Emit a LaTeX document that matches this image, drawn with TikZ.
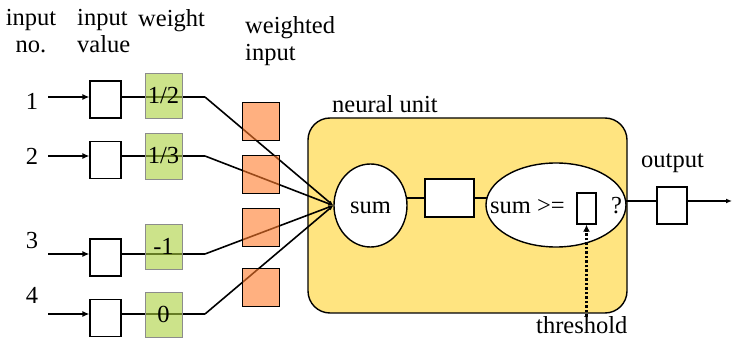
\documentclass[tikz,border=0pt]{standalone}
\usepackage{fontspec}
\setmainfont{Liberation Serif}
\usetikzlibrary{arrows.meta,shapes.geometric}
\definecolor{wgreen}{RGB}{170,208,60}
\definecolor{worange}{RGB}{255,123,43}
\definecolor{nyellow}{RGB}{255,228,128}
\pgfdeclarelayer{bg}
\pgfdeclarelayer{lines}
\pgfsetlayers{bg,lines,main}
\begin{document}
\begin{tikzpicture}[x=1pt,y=-1pt,font=\fontsize{24.5}{27}\selectfont,
  valbox/.style={draw,line width=1.2pt,fill=white,minimum width=31pt,minimum height=37pt,inner sep=0pt},
  wbox/.style={draw=black!45,line width=0.8pt,fill=wgreen,fill opacity=0.6,text opacity=1,minimum width=37pt,minimum height=45pt,inner sep=0pt},
  obox/.style={draw,line width=1pt,fill=worange,fill opacity=0.6,minimum width=37pt,minimum height=38pt,inner sep=0pt},
  feed/.style={line width=2.8pt,-{Latex[length=7pt,width=6pt]}},
  wline/.style={line width=2.8pt},
  lbl/.style={inner sep=0pt}]
\useasboundingbox (0,0) rectangle (732,342);

% headers
\node[lbl,anchor=north,align=center] (hno) at (31,9) {input\\no.};
\node[lbl,anchor=north west,align=left] (hval) at (77,9) {input\\value};
\node[lbl,anchor=north west] (hw) at (138,9) {weight};
\node[lbl,anchor=north west,align=left] (hwi) at (245,16) {weighted\\input};

% neural unit
\begin{pgfonlayer}{bg}
\node[draw,line width=1.4pt,fill=nyellow,rounded corners=22pt,minimum width=319pt,minimum height=195pt] (unit) at (467.5,215.5) {};
\end{pgfonlayer}
\node[lbl,anchor=base west] (unitlbl) at (332,113) {neural unit};

% input rows
\node[lbl] (n1) at (32,101.5) {1};
\node[lbl] (n2) at (32,156.5) {2};
\node[lbl] (n3) at (32,240.5) {3};
\node[lbl] (n4) at (32,295.5) {4};

\coordinate (s1) at (48,97);
\coordinate (s2) at (48,156);
\coordinate (s3) at (48,254);
\coordinate (s4) at (48,314);

\node[valbox] (v1) at (105.5,99.5) {};
\node[valbox] (v2) at (105.5,160) {};
\node[valbox] (v3) at (105.5,257.5) {};
\node[valbox] (v4) at (105.5,318) {};

\coordinate (c1) at (205,97);
\coordinate (c2) at (205,156);
\coordinate (c3) at (205,254);
\coordinate (c4) at (205,314);

% sum and unit internals
\node[ellipse,draw,line width=1.4pt,fill=white,minimum width=73pt,minimum height=83pt,inner sep=0pt] (sum) at (370.5,205.5) {};
\node[lbl,anchor=base] (sumtxt) at (370.5,214) {sum};
\node[draw,line width=1.2pt,fill=white,minimum width=49pt,minimum height=38pt,inner sep=0pt] (mid) at (449.5,198) {};
\node[ellipse,draw,line width=1.4pt,fill=white,minimum width=140pt,minimum height=84pt,inner sep=0pt] (thr) at (556,205) {};
\node[lbl,anchor=base west] (cmp) at (490,214) {sum >=};
\node[draw,line width=1.4pt,fill=white,minimum width=19pt,minimum height=31pt,inner sep=0pt] (tbox) at (586.5,208.5) {};
\node[lbl,anchor=base west] (q) at (611,214) {?};
\node[lbl,anchor=base west] (thrlbl) at (536,334) {threshold};

% output
\node[draw,line width=1.2pt,fill=white,minimum width=30pt,minimum height=37pt,inner sep=0pt] (outbox) at (672,205.5) {};
\node[lbl,anchor=base west] (outlbl) at (641,168) {output};
\coordinate (oend) at (732,201);

\begin{pgfonlayer}{lines}
\foreach \i in {1,2,3,4}{
  \draw[feed] (s\i) -- (v\i.west |- s\i);
  \draw[wline] (v\i.east |- s\i) -- (c\i);
  \draw[line width=1.6pt,-{Latex[length=5pt,width=4pt]}] (c\i) -- (sum.west);
}
\draw[wline] (sum.center |- mid.center) -- (thr.center |- mid.center);
\draw[line width=1.6pt] (thr.center |- oend) -- (outbox.west |- oend);
\draw[line width=1.6pt,-{Latex[length=6pt,width=5pt]}] (outbox.east |- oend) -- (oend);
\end{pgfonlayer}

% weight boxes
\node[wbox] (w1) at (163.5,95.5) {1/2};
\node[wbox,minimum height=46pt] (w2) at (163.5,156) {1/3};
\node[wbox] (w3) at (163.5,246.5) {-1};
\node[wbox] (w4) at (163.5,314.5) {0};

% weighted input boxes
\node[obox] (o1) at (260.5,122) {};
\node[obox] (o2) at (260.5,175) {};
\node[obox] (o3) at (260.5,228) {};
\node[obox] (o4) at (260.5,288) {};

% threshold arrow
\draw[line width=2.6pt,dash pattern=on 2.5pt off 2pt,-{Latex[length=7pt,width=7pt]}] (thrlbl.north -| tbox.south) -- (tbox.south);
\end{tikzpicture}
\end{document}
